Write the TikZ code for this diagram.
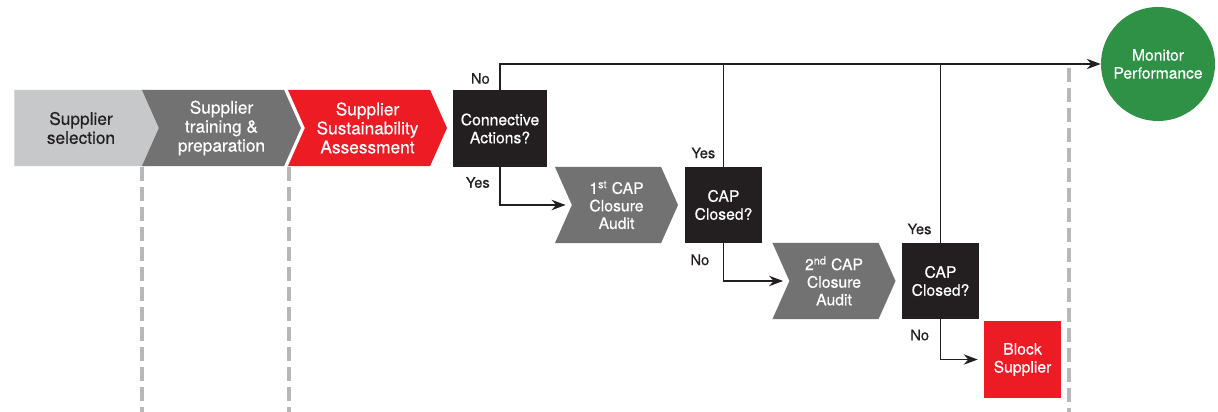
\documentclass[tikz,border=0pt]{standalone}
\usepackage{fontspec}
\setmainfont{TeX Gyre Heros}[FakeBold=0.4]
\usetikzlibrary{shapes.symbols,arrows.meta,positioning}
\definecolor{lgrey}{HTML}{C7C8CA}
\definecolor{dgrey}{HTML}{727273}
\definecolor{cred}{HTML}{ED1C24}
\definecolor{cblack}{HTML}{231F20}
\definecolor{cgreen}{HTML}{2E9145}
\definecolor{guidegrey}{HTML}{B6B8BA}
\begin{document}
\begin{tikzpicture}[
            x=0.025cm, y=-0.025cm,
            every node/.style={align=center, inner sep=0pt, text=white},
            chevron/.style={signal, signal to=east, signal from=west, signal pointer angle=132,
                minimum height=1.9cm, font=\fontsize{12.3}{13.5}\selectfont},
            audit/.style={chevron, fill=dgrey, minimum width=3.075cm, font=\fontsize{11.2}{12.5}\selectfont},
            decision/.style={fill=cblack, minimum width=1.925cm, minimum height=1.9cm,
                font=\fontsize{11.2}{12.8}\selectfont},
            lbl/.style={text=cblack, font=\fontsize{10.4}{12}\selectfont},
            link/.style={draw=cblack, line width=1pt},
            flow/.style={link, -{Stealth[length=0.35cm, width=0.26cm]}},
            guide/.style={draw=guidegrey, line width=2.2pt, dash pattern=on 0.34cm off 0.16cm},
        ]
        \useasboundingbox (0,0) rectangle (1218,412);
        % dashed guides
        \draw[guide] (142,167) -- (142,412);
        \draw[guide] (289,167) -- (289,412);
        \draw[guide] (1069,68) -- (1069,412);
        % stages
        \node[chevron, fill=lgrey, text=cblack, signal from=nowhere, minimum width=3.75cm] (select) at (81,128) {Supplier\\selection};
        \node[chevron, fill=dgrey, minimum width=3.975cm] (train) at (221.5,128) {Supplier\\training \&\\preparation};
        \node[chevron, fill=cred, minimum width=3.975cm] (assess) at (367.5,128) {Supplier\\Sustainability\\Assessment};
        \node[decision, minimum width=2.35cm] (corrective) at (500,128.5) {Connective\\Actions?};
        \node[audit] (audit1) at (616.5,205) {1\textsuperscript{st} CAP\\Closure\\Audit};
        \node[decision] (closed1) at (723.5,205) {CAP\\Closed?};
        \node[audit] (audit2) at (834,281) {2\textsuperscript{nd} CAP\\Closure\\Audit};
        \node[decision] (closed2) at (940.5,281) {CAP\\Closed?};
        \node[decision, fill=cred] (block) at (1022.5,359.5) {Block\\Supplier};
        \node[circle, fill=cgreen, minimum size=2.85cm, font=\fontsize{11.1}{12.8}\selectfont] (monitor) at (1158,64) {Monitor\\Performance};
        % connectors
        \draw[flow] (corrective.north) |- (monitor.west);
        \draw[flow, shorten >=0.15cm] (corrective.south) |- (audit1.west);
        \draw[link] (closed1.north) -- (closed1.north |- monitor.west);
        \draw[flow, shorten >=0.15cm] (closed1.south) |- (audit2.west);
        \draw[link] (closed2.north) -- (closed2.north |- monitor.west);
        \draw[flow, shorten >=0.15cm] (closed2.south) |- (block.west);
        % labels
        \node[lbl, above left=0.15cm and 0.25cm of corrective.north] (no1) {No};
        \node[lbl, below left=0.25cm and 0.25cm of corrective.south] (yes1) {Yes};
        \node[lbl, above left=0.2cm and 0.2cm of closed1.north] (yes2) {Yes};
        \node[lbl, below left=0.27cm and 0.35cm of closed1.south] (no2) {No};
        \node[lbl, above left=0.2cm and 0.22cm of closed2.north] (yes3) {Yes};
        \node[lbl, below left=0.25cm and 0.28cm of closed2.south] (no3) {No};
\end{tikzpicture}
\end{document}
